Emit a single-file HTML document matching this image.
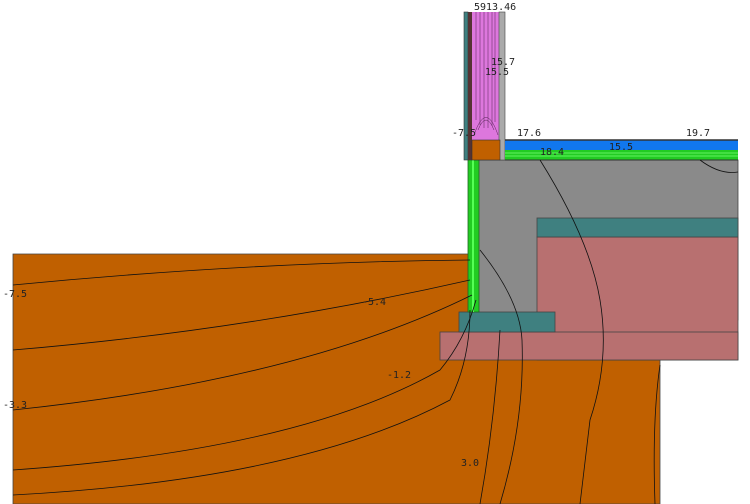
<!DOCTYPE html>
<html><head><style>body{margin:0;background:#fff}svg{display:block}text{font-family:"DejaVu Sans Mono","Liberation Mono",monospace;font-size:10px;fill:#222}</style></head><body>
<svg width="750" height="504" viewBox="0 0 750 504">
<path d="M13 504V254H473V355H660V504Z" fill="#c06000" stroke="#444" stroke-width="0.8"/>
<rect x="470" y="160" width="268" height="160" fill="#8a8a8a" stroke="#444" stroke-width="0.8"/>
<rect x="537" y="237" width="201" height="123" fill="#b87070" stroke="#444" stroke-width="0.8"/>
<rect x="440" y="332" width="298" height="28" fill="#b87070" stroke="#444" stroke-width="0.8"/>
<rect x="537" y="218" width="201" height="19" fill="#3f8080" stroke="#444" stroke-width="0.8"/>
<rect x="459" y="312" width="96" height="20" fill="#3f8080" stroke="#444" stroke-width="0.8"/>
<rect x="468" y="160" width="11" height="152" fill="#22cc22" stroke="#226622" stroke-width="0.8"/>
<line x1="473" y1="160" x2="473" y2="312" stroke="#55ff55" stroke-width="2"/>
<rect x="464" y="12" width="4" height="148" fill="#3f8080" stroke="#333" stroke-width="0.6"/>
<rect x="468" y="12" width="4" height="148" fill="#553333"/>
<rect x="472" y="12" width="27" height="128" fill="#dd77dd"/>
<g stroke="#552255" stroke-width="0.5" fill="none">
<path d="M476 12V120M480 12V125M484 12V128M488 12V128M492 12V126M495 12V122M478 130Q486 110 494 130M474 135Q486 100 498 135"/></g>
<rect x="499" y="12" width="6" height="148" fill="#aaaaaa" stroke="#444" stroke-width="0.6"/>
<rect x="472" y="140" width="28" height="20" fill="#c06000" stroke="#333" stroke-width="0.6"/>
<rect x="505" y="140" width="233" height="11" fill="#1177ee"/>
<rect x="505" y="150" width="233" height="10" fill="#22cc22"/>
<g stroke="#77ff77" stroke-width="0.8"><line x1="505" y1="153" x2="738" y2="153"/><line x1="505" y1="156" x2="738" y2="156"/></g>
<line x1="505" y1="140" x2="738" y2="140" stroke="#333" stroke-width="1.5"/>
<line x1="505" y1="160" x2="738" y2="160" stroke="#333" stroke-width="1"/>
<g stroke="#111" stroke-width="0.8" fill="none">
<path d="M13 285Q250 262 470 260"/>
<path d="M13 350Q250 330 470 280"/>
<path d="M13 410Q300 380 472 295"/>
<path d="M13 470Q300 450 440 370Q465 340 476 300"/>
<path d="M13 495Q300 480 450 400Q470 360 470 310"/>
<path d="M480 250Q520 300 522 340Q525 420 500 504"/>
<path d="M540 160Q590 240 600 300Q610 360 590 420L580 504"/>
<path d="M700 160Q720 175 738 172"/>
<path d="M660 365Q652 420 655 504"/>
<path d="M500 330Q495 420 480 504"/>
</g>
<text x="474" y="10">5913.46</text>
<text x="491" y="65">15.7</text>
<text x="485" y="75">15.5</text>
<text x="452" y="136">-7.5</text>
<text x="517" y="136">17.6</text>
<text x="686" y="136">19.7</text>
<text x="540" y="155">18.4</text>
<text x="609" y="150">15.5</text>
<text x="3" y="297">-7.5</text>
<text x="362" y="305">-5.4</text>
<text x="387" y="378">-1.2</text>
<text x="3" y="408">-3.3</text>
<text x="461" y="466">3.0</text>
</svg>
</body></html>
